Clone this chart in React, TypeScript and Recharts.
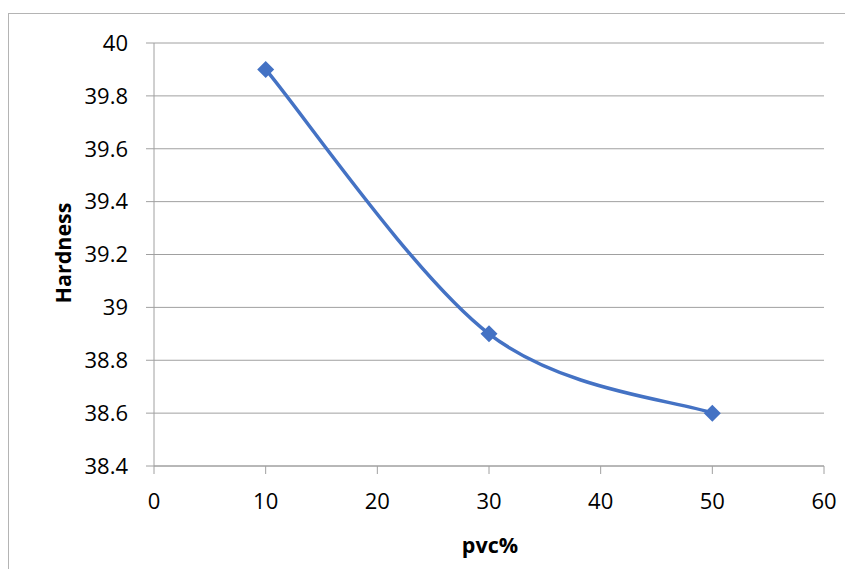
import { CartesianGrid, Line, LineChart, XAxis, YAxis } from 'recharts';

const pvcPercent = [10, 30, 50];
const hardness = [39.9, 38.9, 38.6];
const xTicks = [0, 10, 20, 30, 40, 50, 60];
const yTicks = [38.4, 38.6, 38.8, 39, 39.2, 39.4, 39.6, 39.8, 40];

const data = pvcPercent.map((pvc, i) => ({ pvc, hardness: hardness[i] }));

const LINE_COLOR = '#4472C4';
const AXIS_COLOR = '#a0a0a0';
const FONT = '"Open Sans", sans-serif';

const tickStyle = { fill: '#000', fontSize: 22, fontFamily: FONT } as const;

type Ctx = {
  moveTo: (x: number, y: number) => void;
  bezierCurveTo: (a: number, b: number, c: number, d: number, e: number, f: number) => void;
};

// Spreadsheet-style smoothed line: Catmull-Rom segments as cubic beziers,
// with the end points repeated so the curve starts and ends on the data.
function smoothCurve(context: Ctx) {
  let pts: [number, number][] = [];
  return {
    areaStart() {},
    areaEnd() {},
    lineStart() {
      pts = [];
    },
    point(x: number, y: number) {
      pts.push([+x, +y]);
    },
    lineEnd() {
      if (!pts.length) return;
      context.moveTo(pts[0][0], pts[0][1]);
      for (let i = 0; i < pts.length - 1; i++) {
        const p0 = pts[Math.max(0, i - 1)];
        const p1 = pts[i];
        const p2 = pts[i + 1];
        const p3 = pts[Math.min(pts.length - 1, i + 2)];
        context.bezierCurveTo(
          p1[0] + (p2[0] - p0[0]) / 6,
          p1[1] + (p2[1] - p0[1]) / 6,
          p2[0] - (p3[0] - p1[0]) / 6,
          p2[1] - (p3[1] - p1[1]) / 6,
          p2[0],
          p2[1],
        );
      }
    },
  };
}

function Diamond(props: { cx?: number; cy?: number; index?: number }) {
  const { cx, cy } = props;
  if (cx == null || cy == null) return null;
  const r = 8.5;
  return (
    <polygon
      key={props.index}
      points={`${cx},${cy - r} ${cx + r},${cy} ${cx},${cy + r} ${cx - r},${cy}`}
      fill={LINE_COLOR}
    />
  );
}

const fmt = (v: number) => String(Number(v.toFixed(1)));

const titleProps = {
  textAnchor: 'middle',
  dominantBaseline: 'central',
  fontFamily: FONT,
  fontSize: 21.5,
  fontWeight: 'bold',
  fill: '#000',
} as const;

export default function App() {
  return (
    <div
      style={{
        marginTop: 5,
        borderTop: '1px solid #b4b4b4',
        borderLeft: '1px solid #b4b4b4',
        width: 836,
      }}
    >
      <LineChart
        width={836}
        height={555}
        data={data}
        margin={{ top: 29, right: 21, left: 0, bottom: 0 }}
      >
        <CartesianGrid vertical={false} stroke={AXIS_COLOR} strokeWidth={1} />
        <XAxis
          type="number"
          dataKey="pvc"
          domain={[0, 60]}
          ticks={xTicks}
          height={103}
          tickSize={8}
          tickMargin={19}
          stroke={AXIS_COLOR}
          tick={tickStyle}
          label={{
            content: () => (
              <text x={481} y={530} {...titleProps}>
                pvc%
              </text>
            ),
          }}
        />
        <YAxis
          type="number"
          domain={[38.4, 40]}
          ticks={yTicks}
          width={145}
          tickSize={8}
          tickMargin={18}
          stroke={AXIS_COLOR}
          tick={tickStyle}
          tickFormatter={fmt}
          label={{
            content: () => (
              <text x={53} y={239} transform="rotate(-90, 53, 239)" {...titleProps}>
                Hardness
              </text>
            ),
          }}
        />
        <Line
          dataKey="hardness"
          type={smoothCurve as any}
          stroke={LINE_COLOR}
          strokeWidth={3.5}
          dot={<Diamond />}
          activeDot={false}
          isAnimationActive={false}
        />
      </LineChart>
    </div>
  );
}
